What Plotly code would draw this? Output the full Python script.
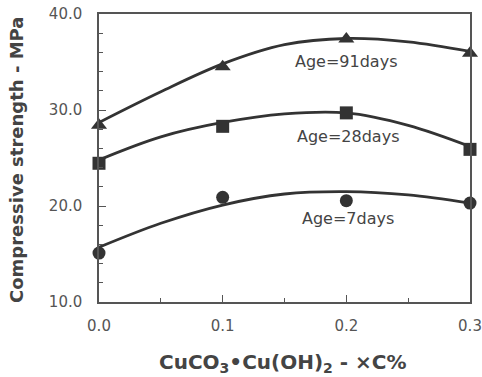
import plotly.graph_objects as go

# Measured points
x_pts = [0.0, 0.1, 0.2, 0.3]
y_91 = [28.4, 34.5, 37.4, 35.9]
y_28 = [24.45, 28.3, 29.7, 25.9]
y_7 = [15.1, 20.9, 20.55, 20.3]

# Fitted curves
x_curve = [0.0, 0.05, 0.1, 0.15, 0.2, 0.25, 0.3]
c_91 = [28.7, 31.9, 34.8, 36.8, 37.45, 37.1, 36.1]
c_28 = [24.8, 27.2, 28.7, 29.6, 29.7, 28.4, 26.2]
c_7 = [15.7, 18.2, 20.1, 21.25, 21.5, 21.15, 20.3]

labels = ["Age=91days", "Age=28days", "Age=7days"]
label_x = [0.2, 0.2015, 0.2015]
label_y = [35.1, 27.2, 18.65]

line_col = "#333333"
text_col = "#444444"
FONT = "DejaVu Sans"

fig = go.Figure()
for cy in [c_91, c_28, c_7]:
    fig.add_trace(go.Scatter(x=x_curve, y=cy, mode="lines",
                             line=dict(color=line_col, width=2.8, shape="spline", smoothing=1.0),
                             cliponaxis=False, showlegend=False, hoverinfo="skip"))
for ys, sym, sz in [(y_91, "triangle-up", 14), (y_28, "square", 13), (y_7, "circle", 13)]:
    fig.add_trace(go.Scatter(x=x_pts, y=ys, mode="markers",
                             marker=dict(symbol=sym, size=sz, color=line_col, line=dict(width=0)),
                             cliponaxis=False, showlegend=False))

for t, lx, ly in zip(labels, label_x, label_y):
    fig.add_annotation(x=lx, y=ly, xref="x", yref="y", text=t, showarrow=False,
                       font=dict(family=FONT, size=16, color=text_col),
                       xanchor="center", yanchor="middle")

fig.add_annotation(x=0.497, y=0, xref="paper", yref="paper", yshift=-61,
                   text="CuCO<sub>3</sub>•Cu(OH)<sub>2</sub> - ×C%", showarrow=False,
                   font=dict(family=FONT, size=20, color=text_col, weight="bold"),
                   xanchor="center", yanchor="middle")
fig.add_annotation(x=0, y=0.5, xref="paper", yref="paper", xshift=-82.5, yshift=-2.5,
                   text="Compressive strength - MPa", showarrow=False, textangle=-90,
                   font=dict(family=FONT, size=18, color=text_col, weight="bold"),
                   xanchor="center", yanchor="middle")

axis_common = dict(showgrid=False, zeroline=False, showline=True, linecolor="#555555",
                   linewidth=1.5, mirror=True, ticks="inside", tickcolor="#555555",
                   tickwidth=1.2, tickformat=".1f", automargin=False,
                   tickfont=dict(family=FONT, size=15, color="#555555"))
fig.update_xaxes(range=[0, 0.3], dtick=0.1, tick0=0, ticklen=7, ticklabelstandoff=9,
                 minor=dict(dtick=0.05, ticklen=4, ticks="inside", tickcolor="#555555", tickwidth=1.2),
                 **axis_common)
fig.update_yaxes(range=[10, 40], dtick=10, tick0=10, ticklen=7, ticklabelstandoff=12,
                 minor=dict(dtick=2, ticklen=4, ticks="inside", tickcolor="#555555", tickwidth=1.2),
                 **axis_common)

fig.update_layout(width=482, height=377, margin=dict(l=98.5, r=12, t=14, b=75, autoexpand=False),
                  paper_bgcolor="white", plot_bgcolor="white")
fig.write_html("out.html")
